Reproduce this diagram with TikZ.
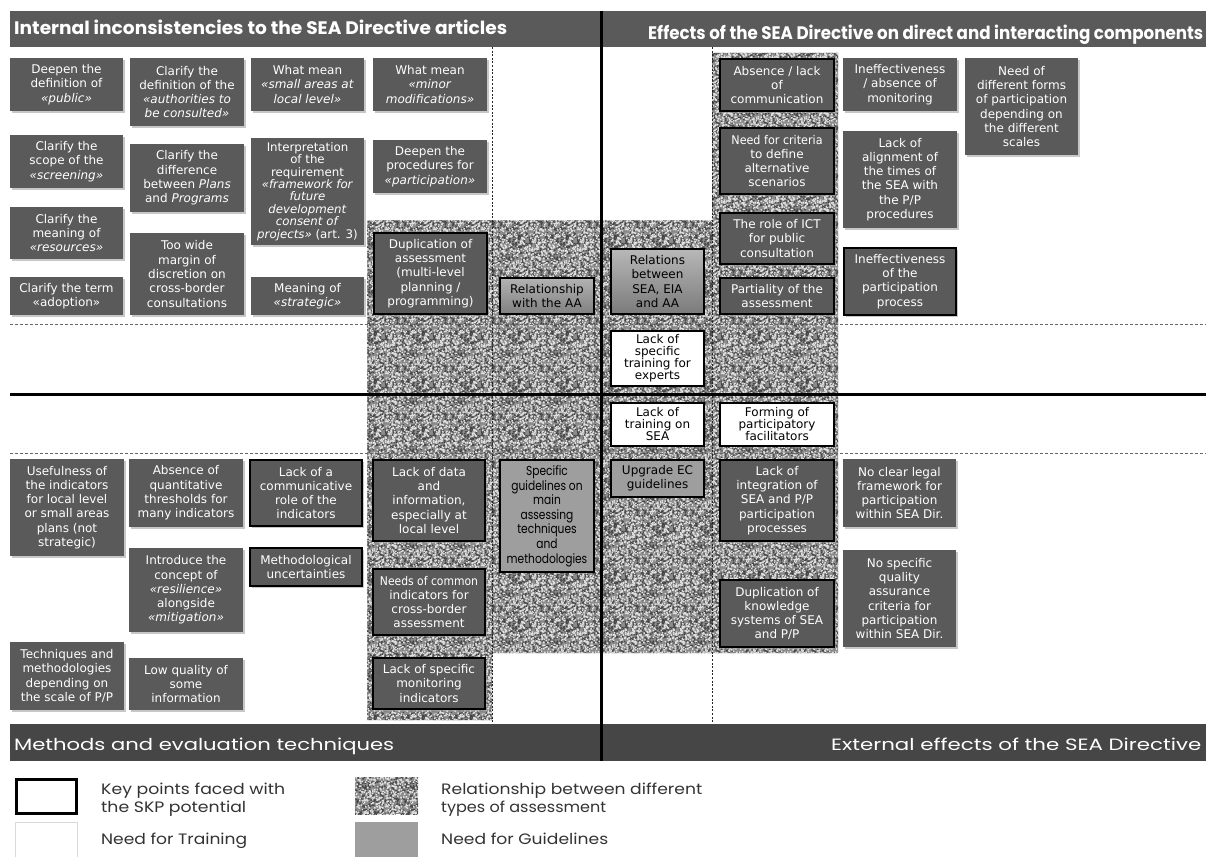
\documentclass[tikz,border=0pt]{standalone}
\usepackage{fontspec}
\usepackage{graphicx}
\setmainfont{DejaVu Sans}
\newfontfamily\hdfont{Poppins}
\newfontfamily\cgfont{Poppins}[FakeStretch=0.82]
\usetikzlibrary{patterns,shadows}

\definecolor{boxgray}{HTML}{5A5A5A}
\definecolor{hdgray}{HTML}{5A5A5A}
\definecolor{hdgrayb}{HTML}{464646}
\definecolor{guidegray}{HTML}{9E9E9E}
\definecolor{noisebase}{HTML}{8C8C8C}
\definecolor{legtext}{HTML}{333333}

\pgfdeclarepatternformonly{noisedk}{\pgfqpoint{0pt}{0pt}}{\pgfqpoint{48pt}{48pt}}{\pgfqpoint{48pt}{48pt}}{%
  \pgfmathsetseed{17}%
  \foreach \k in {1,...,520}{%
    \pgfmathsetmacro\nx{rnd*48}%
    \pgfmathsetmacro\ny{rnd*48}%
    \pgfpathrectangle{\pgfpoint{\nx pt}{\ny pt}}{\pgfqpoint{1.5pt}{1.5pt}}%
    \pgfusepath{fill}%
  }%
}
\pgfdeclarepatternformonly{noiselt}{\pgfqpoint{0pt}{0pt}}{\pgfqpoint{48pt}{48pt}}{\pgfqpoint{48pt}{48pt}}{%
  \pgfmathsetseed{4242}%
  \foreach \k in {1,...,420}{%
    \pgfmathsetmacro\nx{rnd*48}%
    \pgfmathsetmacro\ny{rnd*48}%
    \pgfpathrectangle{\pgfpoint{\nx pt}{\ny pt}}{\pgfqpoint{1.5pt}{1.5pt}}%
    \pgfusepath{fill}%
  }%
}

\newcommand\skpbox[7][]{\node[#2,minimum width={(#5-#3)*1pt},minimum height={(#6-#4)*1pt},#1] (#7) at ({(#3+#5)/2},{(#4+#6)/2})}

\tikzset{
  boxfont/.style={font=\fontsize{12}{14.3}\selectfont},
  dbox/.style={fill=boxgray, text=white, align=center, inner sep=0pt, boxfont,
    drop shadow={shadow xshift=1.6pt, shadow yshift=-1.8pt, fill=black!40, opacity=0.55}},
  kbox/.style={dbox, draw=black, line width=2.5pt},
  gbox/.style={fill=guidegray, draw=black, line width=2.5pt, text=black, align=center, inner sep=0pt, boxfont},
  tbox/.style={fill=white, draw=black, line width=2.5pt, text=black, align=center, inner sep=0pt, font=\fontsize{12}{12}\selectfont},
  hdtext/.style={anchor=base west, inner sep=0pt, text=white},
  legtxt/.style={anchor=base west, inner sep=0pt, text=legtext},
  dotline/.style={line width=0.8pt, black!85, dash pattern=on 2pt off 1.6pt},
  dashline/.style={line width=0.8pt, black!60, dash pattern=on 3pt off 2pt},
  blackline/.style={line width=3pt, black},
}

\begin{document}
\begin{tikzpicture}[x=1pt,y=-1pt]
\useasboundingbox (0,0) rectangle (1206,856);
\begin{scope}
\clip (0,0) rectangle (1206,856);
\fill[white] (0,0) rectangle (1206,856);

% textured region (relationship between different types of assessment)
\fill[noisebase] (367,220) -- (712,220) -- (712,53) -- (838,53) -- (838,653) -- (492,653) -- (492,720) -- (367,720) -- cycle;
\fill[pattern=noisedk, pattern color=black!72] (367,220) -- (712,220) -- (712,53) -- (838,53) -- (838,653) -- (492,653) -- (492,720) -- (367,720) -- cycle;
\fill[pattern=noiselt, pattern color=black!12] (367,220) -- (712,220) -- (712,53) -- (838,53) -- (838,653) -- (492,653) -- (492,720) -- (367,720) -- cycle;

% header bars
\skpbox{fill=hdgray, inner sep=0pt}{10}{11}{1206}{47}{barT} {};
\skpbox{fill=hdgrayb, inner sep=0pt}{10}{724}{1206}{761}{barB} {};

\node[hdtext] (hTL) at (14,35) {\resizebox{493pt}{14.5pt}{\hdfont\bfseries Internal inconsistencies to the SEA Directive articles}};
\node[hdtext] (hTR) at (648,39.3) {\resizebox{555pt}{14.5pt}{\hdfont\bfseries Effects of the SEA Directive on direct and interacting components}};
\node[hdtext] (hBL) at (14,750) {\resizebox{380pt}{12.5pt}{\hdfont Methods and evaluation techniques}};
\node[hdtext] (hBR) at (831,750) {\resizebox{370pt}{12.5pt}{\hdfont External effects of the SEA Directive}};

% grid lines
\draw[dotline] (492,47) -- (492,723);
\draw[dotline] (712,47) -- (712,723);
\draw[dashline] (10,324) -- (1206,324);
\draw[dashline] (10,453) -- (1206,453);
\draw[blackline] (10,394) -- (1206,394);
\draw[blackline] (601,11) -- (601,761);

% top-left quadrant
\skpbox{dbox}{10}{58}{123}{111}{b1} {Deepen the\\definition of\\\textit{«public»}};
\skpbox{dbox}{130}{58}{244}{126}{b2} {Clarify the\\definition of the\\\textit{«authorities to}\\\textit{be consulted»}};
\skpbox{dbox}{251}{58}{364}{111}{b3} {What mean\\\textit{«small areas at}\\\textit{local level»}};
\skpbox{dbox}{373}{58}{487}{111}{b4} {What mean\\\textit{«minor}\\\textit{modifications»}};
\skpbox{dbox}{10}{135}{123}{188}{b5} {Clarify the\\scope of the\\\textit{«screening»}};
\skpbox{dbox}{130}{144}{244}{212}{b6} {Clarify the\\difference\\between \textit{Plans}\\and \textit{Programs}};
\skpbox[font=\fontsize{11.8}{12.4}\selectfont]{dbox}{251}{138}{364}{245}{b7} {Interpretation\\of the\\requirement\\\textit{«framework for}\\\textit{future}\\\textit{development}\\\textit{consent of}\\\textit{projects»} (art. 3)};
\skpbox{dbox}{373}{140}{487}{193}{b8} {Deepen the\\procedures for\\\textit{«participation»}};
\skpbox{dbox}{10}{207}{123}{259}{b9} {Clarify the\\meaning of\\\textit{«resources»}};
\skpbox{dbox}{130}{233}{244}{315}{b10} {Too wide\\margin of\\discretion on\\cross-border\\consultations};
\skpbox{dbox}{10}{277}{123}{315}{b11} {Clarify the term\\«adoption»};
\skpbox{dbox}{251}{277}{364}{315}{b12} {Meaning of\\\textit{«strategic»}};
\skpbox{kbox}{374}{233}{487}{314}{b13} {Duplication of\\assessment\\(multi-level\\planning /\\programming)};

% centre
\skpbox[top color=black!30, bottom color=black!50]{gbox}{500}{278}{594}{314}{b14} {Relationship\\with the AA};
\skpbox[top color=black!28, bottom color=black!52]{gbox}{611}{249}{704}{314}{b15} {Relations\\between\\SEA, EIA\\and AA};
\skpbox{tbox}{611}{331}{704}{386}{b16} {Lack of\\specific\\training for\\experts};
\skpbox{tbox}{611}{403}{704}{446}{b17} {Lack of\\training on\\SEA};
\skpbox{tbox}{720}{403}{834}{446}{b18} {Forming of\\participatory\\facilitators};

% top-right quadrant
\skpbox{kbox}{720}{59}{834}{111}{b19} {Absence / lack\\of\\communication};
\skpbox{dbox}{843}{58}{957}{111}{b20} {Ineffectiveness\\/ absence of\\monitoring};
\skpbox{dbox}{965}{58}{1078}{155}{b21} {Need of\\different forms\\of participation\\depending on\\the different\\scales};
\skpbox{kbox}{720}{128}{834}{194}{b22} {\scalebox{0.93}[1]{Need for criteria}\\to define\\alternative\\scenarios};
\skpbox{dbox}{843}{131}{957}{228}{b23} {Lack of\\alignment of\\the times of\\the SEA with\\the P/P\\procedures};
\skpbox{kbox}{720}{213}{834}{264}{b24} {The role of ICT\\for public\\consultation};
\skpbox{kbox}{720}{278}{834}{314}{b25} {Partiality of the\\assessment};
\skpbox{kbox}{844}{248}{956}{315}{b26} {Ineffectiveness\\of the\\participation\\process};

% bottom-left quadrant
\skpbox{dbox}{10}{459}{124}{556}{b27} {Usefulness of\\the indicators\\for local level\\or small areas\\plans (not\\strategic)};
\skpbox{dbox}{129}{459}{243}{527}{b28} {Absence of\\quantitative\\thresholds for\\many indicators};
\skpbox{kbox}{250}{460}{362}{526}{b29} {Lack of a\\communicative\\role of the\\indicators};
\skpbox{kbox}{373}{460}{485}{541}{b30} {Lack of data\\and\\information,\\especially at\\local level};
\skpbox[font=\cgfont\fontsize{13}{14.6}\selectfont]{gbox}{500}{460}{594}{572}{b31} {Specific\\guidelines on\\main\\assessing\\techniques\\and\\methodologies};
\skpbox{dbox}{129}{548}{243}{632}{b32} {Introduce the\\concept of\\\textit{«resilience»}\\alongside\\\textit{«mitigation»}};
\skpbox{kbox}{250}{548}{362}{586}{b33} {Methodological\\uncertainties};
\skpbox{kbox}{373}{569}{485}{635}{b34} {\scalebox{0.9}[1]{Needs of common}\\indicators for\\cross-border\\assessment};
\skpbox{dbox}{10}{642}{124}{710}{b35} {Techniques and\\methodologies\\depending on\\the scale of P/P};
\skpbox{dbox}{129}{658}{243}{710}{b36} {Low quality of\\some\\information};
\skpbox{kbox}{373}{658}{485}{709}{b37} {Lack of specific\\monitoring\\indicators};

% bottom-right quadrant
\skpbox[font=\fontsize{12}{14}\selectfont]{gbox}{611}{460}{704}{497}{b38} {Upgrade EC\\guidelines};
\skpbox{kbox}{720}{460}{834}{541}{b39} {Lack of\\integration of\\SEA and P/P\\participation\\processes};
\skpbox{dbox}{843}{459}{956}{527}{b40} {No clear legal\\framework for\\participation\\within SEA Dir.};
\skpbox{dbox}{843}{550}{956}{647}{b41} {No specific\\quality\\assurance\\criteria for\\participation\\within SEA Dir.};
\skpbox{kbox}{720}{580}{834}{647}{b42} {Duplication of\\knowledge\\systems of SEA\\and P/P};

% legend
\skpbox{fill=white, draw=black, line width=3pt, inner sep=0pt}{16.5}{779.5}{76.5}{813.5}{lg1} {};
\skpbox{fill=white, draw=black!15, line width=1pt, inner sep=0pt}{15.5}{822.5}{77.5}{860}{lg2} {};
\fill[noisebase] (355,777) rectangle (418,814);
\fill[pattern=noisedk, pattern color=black!72] (355,777) rectangle (418,814);
\fill[pattern=noiselt, pattern color=black!12] (355,777) rectangle (418,814);
\skpbox{inner sep=0pt}{355}{777}{418}{814}{lg3} {};
\skpbox{fill=guidegray, inner sep=0pt}{355}{822}{418}{860}{lg4} {};

\node[legtxt] (lt1a) at (101,794) {\resizebox{184pt}{11.5pt}{\hdfont Key points faced with}};
\node[legtxt] (lt1b) at (101,812) {\resizebox{145pt}{11.5pt}{\hdfont the SKP potential}};
\node[legtxt] (lt2) at (101,844) {\resizebox{146pt}{11.5pt}{\hdfont Need for Training}};
\node[legtxt] (lt3a) at (441,794) {\resizebox{261pt}{11.5pt}{\hdfont Relationship between different}};
\node[legtxt] (lt3b) at (441,812) {\resizebox{165pt}{11.5pt}{\hdfont types of assessment}};
\node[legtxt] (lt4) at (441,844) {\resizebox{167pt}{11.5pt}{\hdfont Need for Guidelines}};
\end{scope}
\end{tikzpicture}
\end{document}
